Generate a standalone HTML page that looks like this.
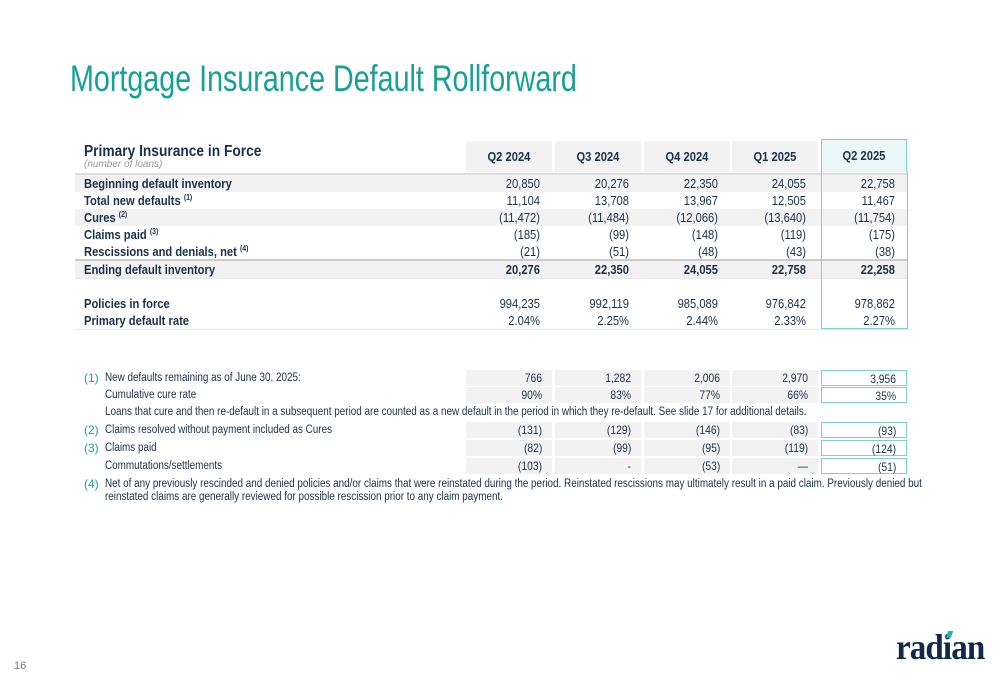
<!DOCTYPE html>
<html><head><meta charset="utf-8"><style>
body{margin:0;width:1000px;height:685px;background:#fff;position:relative;overflow:hidden;font-family:"Liberation Sans",Arial,sans-serif;color:#17324f}
.a{position:absolute;white-space:nowrap}
.title{left:70px;top:58px;font-size:37px;color:#16a097;transform:scaleX(.775);transform-origin:left top}
sup{font-size:8px;line-height:0;vertical-align:5px}
</style></head><body>
<div class="a title">Mortgage Insurance Default Rollforward</div>
<div id="t"></div>
<div class="a" style="left:14px;top:660px;font-size:11px;color:#777">16</div>
<div class="a" style="left:896px;top:626px;font-family:'Liberation Serif',serif;font-size:36px;font-weight:bold;color:#10284a;letter-spacing:-1px;transform:scaleX(.92);transform-origin:left">radian</div>
<div class="a" style="left:947px;top:631px;width:5px;height:7px;background:#1fb5ad;transform:skewX(-20deg)"></div>
<script>
const quarters=["Q2 2024","Q3 2024","Q4 2024","Q1 2025","Q2 2025"];
const rowLabels=["Beginning default inventory","Total new defaults","Cures","Claims paid","Rescissions and denials, net","Ending default inventory","","Policies in force","Primary default rate"];
const rowSup=["","(1)","(2)","(3)","(4)","","","",""];
const rowVals=[["20,850","20,276","22,350","24,055","22,758"],["11,104","13,708","13,967","12,505","11,467"],["(11,472)","(11,484)","(12,066)","(13,640)","(11,754)"],["(185)","(99)","(148)","(119)","(175)"],["(21)","(51)","(48)","(43)","(38)"],["20,276","22,350","24,055","22,758","22,258"],null,["994,235","992,119","985,089","976,842","978,862"],["2.04%","2.25%","2.44%","2.33%","2.27%"]];
const fnMarks=["(1)","","","(2)","(3)","","(4)"];
const fnLabels=["New defaults remaining as of June 30, 2025:","Cumulative cure rate","Loans that cure and then re-default in a subsequent period are counted as a new default in the period in which they re-default. See slide 17 for additional details.","Claims resolved without payment included as Cures","Claims paid","Commutations/settlements","Net of any previously rescinded and denied policies and/or claims that were reinstated during the period. Reinstated rescissions may ultimately result in a paid claim. Previously denied but"];
const fnVals=[["766","1,282","2,006","2,970","3,956"],["90%","83%","77%","66%","35%"],null,["(131)","(129)","(146)","(83)","(93)"],["(82)","(99)","(95)","(119)","(124)"],["(103)","-","(53)","—","(51)"],null];
const fnY=[370,387,404,422,440,458,476];
const colX=[466,555,644,732,821],colW=86;
const T=document.getElementById('t');
function add(html,css,name){const d=document.createElement('div');d.innerHTML=html;d.style.cssText=css;

T.appendChild(d);return d;}
add('Primary Insurance in Force','position:absolute;left:84px;top:143px;font-size:16px;font-weight:bold;transform:scaleX(.86);transform-origin:left;white-space:nowrap','table-title');
add('(number of loans)','position:absolute;left:84px;top:159px;font-size:10px;font-style:italic;color:#999;white-space:nowrap','table-subtitle');
quarters.forEach((q,i)=>{const last=i==4;
add('<span style="display:inline-block;transform:scaleX(.86)">'+q+'</span>',`position:absolute;left:${colX[i]}px;top:${last?139:141}px;width:${colW}px;height:${last?33:31}px;line-height:32px;text-align:center;font-size:13px;font-weight:bold;background:${last?'#eaf7f6':'#f2f2f2'};${last?'border:1px solid #7fd0ca;border-bottom:none;box-sizing:border-box;':''}`,'header-'+q.replace(' ','-').toLowerCase());});
add('','position:absolute;left:75px;top:173px;width:833px;height:2px;background:#ddd','header-rule');
const rowY=[175,192,209,226,243,261,278,295,312];
rowLabels.forEach((l,r)=>{const y=rowY[r];if(!rowVals[r])return;
const bg=(r==0||r==2||r==5)?'#f2f2f2':'#fff';
add('',`position:absolute;left:75px;top:${y}px;width:833px;height:17px;background:${bg};border-bottom:1px solid #e6e6e6`,'row-bg');
if(r==5)add('',`position:absolute;left:75px;top:${y-2}px;width:833px;height:2px;background:#ccc`,'total-rule');
add(l+(rowSup[r]?' <sup>'+rowSup[r]+'</sup>':''),`position:absolute;left:84px;top:${y}px;height:17px;line-height:17px;font-size:13px;font-weight:bold;transform:scaleX(.86);transform-origin:left;white-space:nowrap`,'row-label-'+r);
rowVals[r].forEach((v,i)=>add(v,`position:absolute;left:${colX[i]}px;top:${y}px;width:${colW-12}px;height:17px;line-height:17px;text-align:right;font-size:13px;${r==5?'font-weight:bold;':''}transform:scaleX(.86);transform-origin:right;white-space:nowrap`,'value-'+r+'-'+i));});
add('','position:absolute;left:821px;top:172px;width:87px;height:157px;border:1px solid #7fd0ca;border-top:none;box-sizing:border-box','q2-2025-highlight');
fnLabels.forEach((l,r)=>{const y=fnY[r];
if(fnMarks[r])add(fnMarks[r],`position:absolute;left:84px;top:${y}px;height:17px;line-height:17px;font-size:12px;color:#1aa59b`,'footnote-mark-'+r);
add(l,`position:absolute;left:105px;top:${y}px;height:17px;line-height:17px;font-size:11.5px;transform:scaleX(.86);transform-origin:left;white-space:nowrap`,'footnote-label-'+r);
if(fnVals[r])fnVals[r].forEach((v,i)=>{const last=i==4;
add('<span style="display:inline-block;transform:scaleX(.86);transform-origin:right">'+v+'</span>',`position:absolute;left:${colX[i]}px;top:${y}px;width:${colW}px;height:16px;line-height:16px;padding-right:10px;box-sizing:border-box;text-align:right;font-size:12px;background:${last?'#fff':'#f2f2f2'};${last?'border:1px solid #7fd0ca;':''}`,'footnote-value-'+r+'-'+i);});});
add('reinstated claims are generally reviewed for possible rescission prior to any claim payment.','position:absolute;left:105px;top:491px;font-size:11.5px;transform:scaleX(.86);transform-origin:left;white-space:nowrap','footnote-label-cont');
</script>
</body></html>
